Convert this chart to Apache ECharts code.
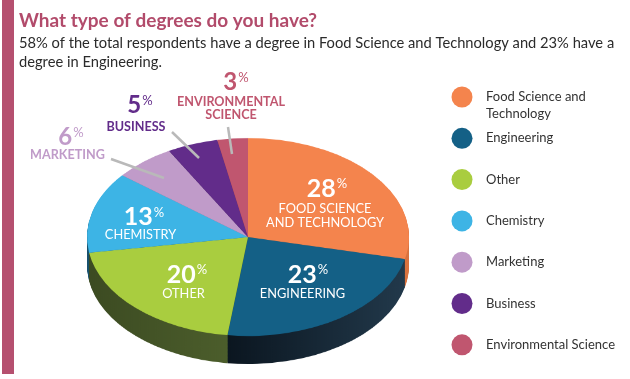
<!DOCTYPE html>
<html>
<head>
<meta charset="utf-8">
<script src="https://cdn.jsdelivr.net/npm/echarts@6/dist/echarts.min.js"></script>
<style>
html,body{margin:0;padding:0;background:#fff;}
#wrap{position:relative;width:630px;height:379px;overflow:hidden;background:#fff;}
#pie{position:absolute;left:0;top:0;width:630px;height:616px;transform-origin:0 0;}
#main{position:absolute;left:0;top:0;width:630px;height:379px;}
</style>
</head>
<body>
<div id="wrap"><div id="pie"></div><div id="main"></div></div>
<script>
// ---- data ----
const titleText = 'What type of degrees do you have?';
const subtitleLines = ['58% of the total respondents have a degree in Food Science and Technology and 23% have a', 'degree in Engineering.'];
const categories = ['Food Science and Technology', 'Engineering', 'Other', 'Chemistry', 'Marketing', 'Business', 'Environmental Science'];
const values = [28, 23, 20, 13, 6, 5, 3];
const legendLabels = ['Food Science and\nTechnology', 'Engineering', 'Other', 'Chemistry', 'Marketing', 'Business', 'Environmental Science'];
const sliceLabels = ['FOOD SCIENCE\nAND TECHNOLOGY', 'ENGINEERING', 'OTHER', 'CHEMISTRY', 'MARKETING', 'BUSINESS', 'ENVIRONMENTAL\nSCIENCE'];

// ---- styles / layout ----
const colors = ['#f4844d', '#146086', '#a9cd3f', '#3db4e5', '#c09bc9', '#622c8a', '#c0566f'];
const sideLeft = ['#c8622f', '#0b1620', '#3c4b22', '#17506c', '#8a6d90', '#3f1d5a', '#8a3a50'];
const sideRight = ['#d9733f', '#22394b', '#4e602d', '#1d5a78', '#8a6d90', '#3f1d5a', '#8a3a50'];
const insideLabel = [true, true, true, true, false, false, false];
const numPos = [[327, 188.5], [308, 274.5], [187, 274.5], [144, 217], [71, 137.5], [140, 105.5], [236, 82]];
const namePos = [[325, 215.8], [302.5, 293.5], [183.5, 293.5], [140.5, 235], [67.5, 155], [136, 126.5], [231, 108.5]];
const leaderLines = [null, null, null, null, [[111, 159], [164, 178]], [[172, 132], [199, 158]], [[228, 127], [232, 154]]];
const accent = '#b24b6b';
const FONT = 'Lato';

const S = 99 / 161;          // vertical squash of the pie face
const R = 161, CX = 248, CY = 237 / S;
const DEPTH = 28 / S;
document.getElementById('pie').style.transform = 'scaleY(' + S + ')';

// ---- pie chart (3D look) ----
const pieChart = echarts.init(document.getElementById('pie'), null, {renderer: 'canvas'});
const pieSeries = [];
function sideColor(i) {
  return {type: 'linear', x: 0, y: 0, x2: 1, y2: 0, colorStops: [{offset: 0, color: sideLeft[i]}, {offset: 1, color: sideRight[i]}]};
}
function pieData(top) {
  return values.map((v, i) => ({value: v, name: categories[i], itemStyle: {color: top ? colors[i] : sideColor(i)}}));
}
const common = {type: 'pie', radius: R, startAngle: 90, clockwise: true, label: {show: false}, labelLine: {show: false},
  itemStyle: {borderWidth: 0}, silent: true, animation: false, emphasis: {disabled: true}};
for (let k = DEPTH; k > 0; k -= 1.2) {
  pieSeries.push(Object.assign({}, common, {center: [CX, CY + k], data: pieData(false)}));
}
pieSeries.push(Object.assign({}, common, {center: [CX, CY], data: pieData(true)}));
pieChart.setOption({animation: false, series: pieSeries});

// ---- overlay: titles, labels, legend ----
const chart = echarts.init(document.getElementById('main'));
const g = [];
g.push({type: 'rect', shape: {x: 2, y: 0, width: 12, height: 374}, style: {fill: '#b5506f'}, silent: true});
g.push({type: 'text', x: 19, y: 21, style: {text: titleText, font: 'bold 19px ' + FONT, fill: accent, textVerticalAlign: 'middle'}});
subtitleLines.forEach((t, i) => {
  g.push({type: 'text', x: 19, y: 43 + i * 19, style: {text: t, font: '14.7px ' + FONT, fill: '#2b2b2b', textVerticalAlign: 'middle'}});
});
// leader lines
leaderLines.forEach(l => {
  if (!l) return;
  g.push({type: 'line', shape: {x1: l[0][0], y1: l[0][1], x2: l[1][0], y2: l[1][1]}, style: {stroke: '#b9b9b9', lineWidth: 2.5}, silent: true});
});
// slice labels
values.forEach((v, i) => {
  const inside = insideLabel[i];
  const c = inside ? '#ffffff' : colors[i];
  g.push({
    type: 'text', x: numPos[i][0], y: numPos[i][1],
    style: {
      text: '{n|' + v + '}{p|%}',
      textAlign: 'center', textVerticalAlign: 'middle',
      rich: {
        n: {font: 'bold ' + (inside ? 25 : 24) + 'px ' + FONT, fill: c, lineHeight: 24},
        p: {font: '13px ' + FONT, fill: c, lineHeight: 24, padding: [0, 0, 9, 1]}
      }
    }
  });
  g.push({
    type: 'text', x: namePos[i][0], y: namePos[i][1],
    style: {
      text: sliceLabels[i], textAlign: 'center', textVerticalAlign: 'middle',
      font: (inside ? '' : 'bold ') + (inside ? '12.8px ' : '12.6px ') + FONT, fill: c, lineHeight: 13.5
    }
  });
});
// legend
categories.forEach((c, i) => {
  const y = 97 + i * 41.3;
  g.push({type: 'circle', shape: {cx: 462, cy: y, r: 10.5}, style: {fill: colors[i]}});
  g.push({type: 'text', x: 486, y: y - 8.5, style: {text: legendLabels[i], font: '13px ' + FONT, fill: '#333', lineHeight: 17, textVerticalAlign: 'top'}});
});
chart.setOption({animation: false, graphic: g});
</script>
</body>
</html>
